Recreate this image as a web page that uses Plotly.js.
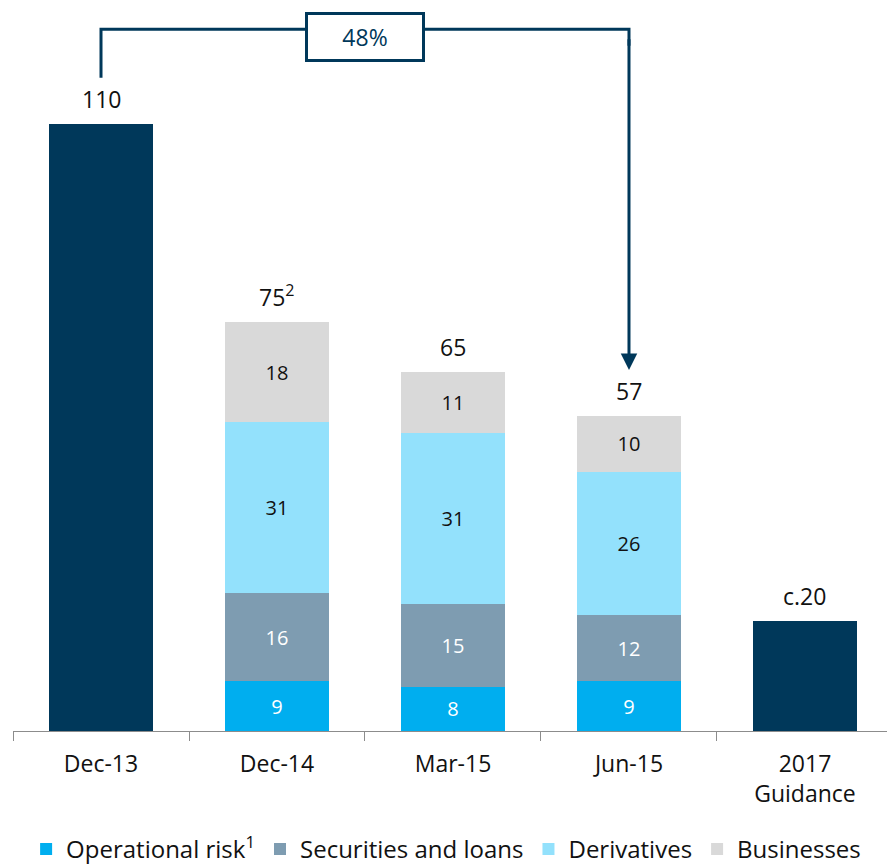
<!DOCTYPE html>
<html>
<head>
<meta charset="utf-8">
<script src="https://cdn.plot.ly/plotly-3.0.1.min.js"></script>
<style>html,body{margin:0;padding:0;background:#fff;}#chart{width:887px;height:865px;}</style>
</head>
<body>
<div id="chart"></div>
<script>
// ---- data ----
const categories = ["Dec-13", "Dec-14", "Mar-15", "Jun-15", "2017<br>Guidance"];
const totalOnly = [110, null, null, null, 20];
const operationalRisk = [null, 9, 8, 9, null];
const securitiesLoans = [null, 16, 15, 12, null];
const derivatives = [null, 31, 31, 26, null];
const businesses = [null, 18, 11, 10, null];
const totalLabels = ["110", "75<sup>2</sup>", "65", "57", "c.20"];
const reductionLabel = "48%";
const seriesNames = ["Operational risk<sup>1</sup>", "Securities and loans", "Derivatives", "Businesses"];

// ---- styles ----
const NAVY = "#00385A";
const colors = ["#00AEEF", "#7E9CB1", "#93E1FC", "#D9D9D9"];
const textColors = ["#ffffff", "#ffffff", "#111111", "#111111"];
const FONT = "Open Sans, sans-serif";
const BW = 0.59;

const stacks = [operationalRisk, securitiesLoans, derivatives, businesses];
const traces = [{
  type: "bar", x: categories, y: totalOnly, name: "Total", showlegend: false,
  marker: {color: NAVY}, width: BW, hoverinfo: "skip"
}];
stacks.forEach((arr, i) => {
  traces.push({
    type: "bar", x: categories, y: arr, name: seriesNames[i],
    marker: {color: colors[i], line: {width: 0}}, width: BW,
    texttemplate: "%{y}",
    textposition: "inside", insidetextanchor: "middle",
    textfont: {family: FONT, size: 20, color: textColors[i]},
    constraintext: "none", hoverinfo: "skip"
  });
});

const sums = categories.map((c, k) => {
  let s = totalOnly[k] || 0;
  stacks.forEach(a => { s += a[k] || 0; });
  return s;
});

const annotations = categories.map((c, k) => ({
  x: c, y: sums[k], xref: "x", yref: "y", text: totalLabels[k],
  showarrow: false, yanchor: "bottom", yshift: 7,
  font: {family: FONT, size: 23, color: "#111"}
}));

// bracket geometry (data units)
const yTop = 127.1;
const startIdx = 0, endIdx = 3;
const yStart = sums[startIdx] + 8.3;
const yArrowTip = sums[endIdx] + 8.4;

annotations.push({
  x: endIdx, y: yArrowTip, xref: "x", yref: "y",
  ax: endIdx, ay: yTop, axref: "x", ayref: "y",
  showarrow: true, arrowhead: 2, arrowsize: 1.1, arrowwidth: 3, arrowcolor: NAVY, text: " "
});
annotations.push({
  x: (startIdx + endIdx) / 2, y: 125.7, xref: "x", yref: "y",
  text: reductionLabel, showarrow: false,
  font: {family: FONT, size: 23, color: NAVY},
  bgcolor: "#ffffff", bordercolor: NAVY, borderwidth: 3,
  width: 112, height: 42
});

const shapes = [{
  type: "path", xref: "x", yref: "y",
  path: `M ${startIdx},${yStart} L ${startIdx},${yTop} L ${endIdx},${yTop} L ${endIdx},${yTop - 3}`,
  line: {color: NAVY, width: 3}
}];

const layout = {
  width: 887, height: 865,
  margin: {l: 13, r: 0, t: 0, b: 134, autoexpand: false},
  paper_bgcolor: "#fff", plot_bgcolor: "#fff",
  barmode: "stack", bargap: 0.41,
  font: {family: FONT, color: "#111"},
  xaxis: {
    type: "category", range: [-0.5, 4.466],
    showline: true, linecolor: "#8c8c8c", linewidth: 1,
    ticks: "outside", tickson: "boundaries", ticklen: 9, tickcolor: "#8c8c8c",
    ticklabelstandoff: 12,
    tickfont: {family: FONT, size: 23, color: "#111"},
    showgrid: false, zeroline: false, fixedrange: true
  },
  yaxis: {
    range: [0, 132.4], visible: false, showgrid: false, zeroline: false, fixedrange: true
  },
  showlegend: true,
  legend: {
    orientation: "h", x: 0.015, xanchor: "left", y: -0.162, yanchor: "middle",
    font: {family: FONT, size: 24, color: "#111"},
    itemclick: false, itemdoubleclick: false, traceorder: "normal",
    tracegroupgap: 0, itemwidth: 30
  },
  annotations: annotations,
  shapes: shapes
};

Plotly.newPlot("chart", traces, layout, {displayModeBar: false, staticPlot: true});
</script>
</body>
</html>
